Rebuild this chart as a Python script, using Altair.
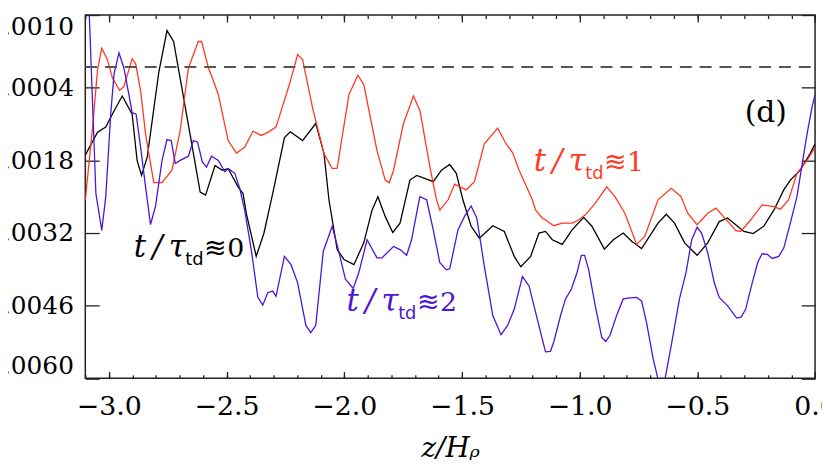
import altair as alt
import pandas as pd

# ---- data (z/H_rho, value in units of 1e-4) ----
z_black = [-3.100, -3.048, -3.013, -2.978, -2.943, -2.901, -2.880, -2.861, -2.837, -2.788,
           -2.753, -2.725, -2.690, -2.648, -2.612, -2.589, -2.549, -2.518, -2.493, -2.451,
           -2.430, -2.416, -2.374, -2.341, -2.304, -2.254, -2.229, -2.177, -2.121, -2.086,
           -2.065, -2.030, -2.001, -1.959, -1.917, -1.882, -1.857, -1.826, -1.794, -1.763,
           -1.721, -1.692, -1.622, -1.587, -1.552, -1.524, -1.496, -1.461, -1.426, -1.369,
           -1.320, -1.278, -1.250, -1.208, -1.173, -1.145, -1.116, -1.074, -1.032, -0.983,
           -0.948, -0.895, -0.857, -0.815, -0.779, -0.737, -0.667, -0.632, -0.597, -0.554,
           -0.501, -0.456, -0.407, -0.372, -0.337, -0.302, -0.263, -0.218, -0.175, -0.133,
           -0.105, -0.063, -0.021, 0.000]
v_black = [-17.0, -12.6, -11.6, -8.5, -5.6, -9.1, -18.0, -20.9, -17.4, -1.1,
           7.0, 4.9, -4.0, -14.8, -24.1, -24.7, -19.0, -19.9, -19.6, -23.1,
           -24.4, -28.2, -36.5, -32.0, -24.4, -13.6, -12.5, -14.2, -10.9, -16.7,
           -25.6, -35.2, -37.1, -38.1, -33.9, -27.6, -25.0, -28.8, -31.9, -30.1,
           -21.8, -20.9, -22.1, -19.9, -18.8, -20.5, -25.6, -30.7, -33.0, -30.6,
           -31.7, -36.5, -38.5, -36.5, -32.0, -31.7, -33.3, -34.2, -31.4, -29.0,
           -30.7, -35.1, -33.3, -32.0, -33.6, -35.0, -30.1, -28.4, -30.1, -33.9,
           -36.3, -33.9, -29.8, -29.1, -30.4, -31.7, -32.1, -30.7, -27.6, -23.7,
           -21.8, -19.9, -16.7, -14.8]

z_red = [-3.100, -3.069, -3.048, -3.030, -3.006, -2.985, -2.954, -2.936, -2.901, -2.886,
         -2.865, -2.844, -2.809, -2.774, -2.732, -2.697, -2.662, -2.620, -2.606, -2.577,
         -2.563, -2.535, -2.493, -2.458, -2.423, -2.388, -2.353, -2.325, -2.290, -2.233,
         -2.198, -2.177, -2.135, -2.086, -2.051, -2.030, -1.980, -1.942, -1.917, -1.861,
         -1.826, -1.809, -1.791, -1.749, -1.706, -1.678, -1.636, -1.608, -1.594, -1.559,
         -1.531, -1.482, -1.447, -1.405, -1.348, -1.313, -1.285, -1.257, -1.201, -1.187,
         -1.159, -1.145, -1.110, -1.074, -1.032, -1.004, -0.976, -0.934, -0.885, -0.850,
         -0.808, -0.758, -0.723, -0.667, -0.611, -0.569, -0.541, -0.501, -0.456, -0.421,
         -0.337, -0.316, -0.274, -0.225, -0.175, -0.147, -0.112, -0.077, -0.034, 0.000]
v_red = [-25.7, -11.6, -0.5, 3.6, 1.4, -2.1, -4.5, -3.8, 1.6, 0.6,
         -4.6, -12.9, -22.3, -22.3, -19.9, -12.3, -0.2, 4.9, 4.9, -0.2,
         -1.8, -5.3, -14.2, -16.6, -15.5, -12.4, -13.2, -12.6, -11.6, -3.4,
         2.4, 1.4, -7.8, -16.7, -19.6, -19.5, -5.3, -1.6, -3.4, -16.1,
         -21.8, -22.3, -20.0, -11.0, -5.6, -8.5, -19.3, -25.6, -27.6, -25.6,
         -22.6, -23.7, -22.1, -14.8, -11.8, -14.8, -16.5, -19.9, -25.6, -27.6,
         -29.1, -29.5, -30.6, -30.1, -30.1, -29.5, -28.5, -26.3, -23.1, -25.0,
         -28.2, -34.2, -32.6, -25.6, -23.4, -25.0, -28.2, -30.4, -28.2, -27.2,
         -31.5, -31.7, -29.5, -26.6, -26.9, -27.4, -25.6, -20.5, -18.0, -15.5]

z_blue = [-3.100, -3.083, -3.055, -3.030, -3.013, -2.992, -2.978, -2.957, -2.936, -2.915,
          -2.901, -2.884, -2.865, -2.844, -2.823, -2.802, -2.774, -2.753, -2.735, -2.718,
          -2.697, -2.662, -2.641, -2.623, -2.603, -2.585, -2.564, -2.535, -2.507, -2.493,
          -2.465, -2.444, -2.423, -2.395, -2.367, -2.346, -2.325, -2.304, -2.290, -2.254,
          -2.226, -2.198, -2.163, -2.142, -2.121, -2.089, -2.051, -2.022, -1.995, -1.962,
          -1.938, -1.903, -1.861, -1.840, -1.791, -1.763, -1.735, -1.714, -1.679, -1.650,
          -1.622, -1.594, -1.566, -1.552, -1.517, -1.489, -1.461, -1.437, -1.405, -1.369,
          -1.334, -1.306, -1.278, -1.243, -1.215, -1.187, -1.159, -1.145, -1.124, -1.110,
          -1.081, -1.060, -1.035, -1.011, -0.993, -0.979, -0.962, -0.934, -0.906, -0.889,
          -0.871, -0.843, -0.815, -0.786, -0.758, -0.737, -0.716, -0.688, -0.660, -0.639,
          -0.611, -0.576, -0.548, -0.524, -0.501, -0.482, -0.456, -0.428, -0.407, -0.372,
          -0.333, -0.314, -0.295, -0.267, -0.243, -0.225, -0.203, -0.182, -0.154, -0.133,
          -0.105, -0.077, -0.034, -0.013, 0.000]
v_blue = [14.0, 10.0, -24.4, -31.5, -25.0, -9.1, -1.4, 2.7, -0.2, -5.3,
          -8.8, -9.1, -15.5, -23.1, -30.4, -26.9, -18.0, -14.0, -14.2, -18.6,
          -18.0, -17.2, -14.2, -14.5, -18.3, -19.3, -17.2, -18.0, -20.2, -19.6,
          -20.5, -23.4, -27.6, -35.2, -44.4, -45.9, -43.5, -43.2, -44.2, -36.5,
          -38.1, -41.6, -49.8, -51.2, -49.8, -35.5, -30.7, -35.8, -40.9, -42.7,
          -39.6, -33.3, -36.8, -36.8, -34.6, -35.2, -36.3, -33.3, -25.0, -25.6,
          -31.4, -37.7, -39.1, -38.9, -31.4, -28.8, -26.8, -29.1, -38.4, -47.9,
          -51.6, -49.8, -46.7, -40.4, -42.2, -47.3, -52.4, -54.9, -54.8, -53.0,
          -47.9, -44.7, -42.8, -39.6, -36.3, -36.3, -39.0, -46.0, -52.1, -52.9,
          -51.7, -47.9, -44.7, -44.5, -44.4, -45.1, -49.2, -56.2, -61.5, -60.5,
          -53.7, -44.7, -39.6, -33.3, -30.9, -32.0, -35.8, -41.6, -44.4, -46.0,
          -48.4, -48.2, -46.7, -41.6, -37.6, -36.0, -36.1, -36.9, -36.5, -34.9,
          -30.1, -25.0, -12.9, -7.8, -5.3]

series_names = ["t0", "t1", "t2"]
series_colors = ["#000000", "#ff3a1f", "#4d14d6"]

x_major = [-3.0, -2.5, -2.0, -1.5, -1.0, -0.5, 0.0]
x_minor = [-3.1, -3.0, -2.9, -2.8, -2.7, -2.6, -2.5, -2.4, -2.3, -2.2, -2.1, -2.0,
           -1.9, -1.8, -1.7, -1.6, -1.5, -1.4, -1.3, -1.2, -1.1, -1.0,
           -0.9, -0.8, -0.7, -0.6, -0.5, -0.4, -0.3, -0.2, -0.1, 0.0]
y_major = [0.0010, -0.0004, -0.0018, -0.0032, -0.0046, -0.0060]

# label anchors (start of "t", baseline)
lab_z = [-2.894, -1.195, -1.990]
lab_v = [-0.00367, -0.00201, -0.00470]
lab_num = ["0", "1", "2"]

# ---- tables ----
rows = []
for name, zs, vs in zip(series_names, [z_black, z_red, z_blue], [v_black, v_red, v_blue]):
    for z, v in zip(zs, vs):
        rows.append({"z": z, "v": v * 1e-4, "series": name})
df = pd.DataFrame(rows)

zero_df = pd.DataFrame({"z": [-3.1], "z2": [0.0], "v": [0.0]})
lab_df = pd.DataFrame({"z": lab_z, "v": lab_v, "rel": ["≋" + n for n in lab_num],
                       "color": series_colors})
d_df = pd.DataFrame({"z": [-0.209], "v": [-0.00088], "txt": ["(d)"]})

x_scale = alt.Scale(domain=[-3.1, 0.0], nice=False, zero=False)
y_scale = alt.Scale(domain=[-0.0060, 0.0010], nice=False, zero=False)

FONT = "DejaVu Serif"
tick_style = dict(domain=False, grid=False, tickColor="#222", tickWidth=1.3)

lines = alt.Chart(df).mark_line(strokeWidth=1.3, clip=True).encode(
    x=alt.X("z:Q", scale=x_scale,
            axis=alt.Axis(orient="bottom", values=x_major, format=".1f", tickSize=7, offset=-7,
                          labelPadding=16, labelFlush=False, labelFont=FONT, labelFontSize=27,
                          labelColor="#000", title="z/Hᵨ", titleFont=FONT, titleFontSize=28,
                          titleFontStyle="italic", titleFontWeight="normal", titlePadding=15,
                          titleColor="#000", **tick_style)),
    y=alt.Y("v:Q", scale=y_scale,
            axis=alt.Axis(orient="left", values=y_major, format=".4f", tickSize=14, offset=-14,
                          labelPadding=12, labelFlush=True, labelFont=FONT, labelFontSize=25,
                          labelColor="#000", title=None, **tick_style)),
    color=alt.Color("series:N", scale=alt.Scale(domain=series_names, range=series_colors),
                    legend=None),
    detail="series:N",
)

zero_rule = alt.Chart(zero_df).mark_rule(color="#555555", strokeWidth=2,
                                         strokeDash=[12, 8]).encode(
    x=alt.X("z:Q", scale=x_scale,
            axis=alt.Axis(orient="bottom", values=x_minor, tickSize=3.5, offset=-3.5,
                          labels=False, title=None, **tick_style)),
    x2="z2:Q",
    y=alt.Y("v:Q", scale=y_scale,
            axis=alt.Axis(orient="right", values=y_major, tickSize=14, offset=-14,
                          labels=False, title=None, **tick_style)),
)

main_txt = alt.Chart(lab_df).mark_text(align="left", baseline="alphabetic", font=FONT,
                                       fontStyle="italic", fontSize=31).encode(
    x=alt.X("z:Q", scale=x_scale,
            axis=alt.Axis(orient="top", values=x_major, tickSize=7, offset=-7,
                          labels=False, title=None, **tick_style)),
    y=alt.Y("v:Q", scale=y_scale, axis=None),
    text=alt.value("t\u2009/\u2009τ"),
    color=alt.Color("color:N", scale=None),
)

sub_txt = alt.Chart(lab_df).mark_text(align="left", baseline="alphabetic", font="DejaVu Sans",
                                      fontSize=18, dx=52, dy=8).encode(
    x=alt.X("z:Q", scale=x_scale,
            axis=alt.Axis(orient="top", values=x_minor, tickSize=3.5, offset=-3.5,
                          labels=False, title=None, **tick_style)),
    y=alt.Y("v:Q", scale=y_scale, axis=None),
    text=alt.value("td"),
    color=alt.Color("color:N", scale=None),
)

rel_txt = alt.Chart(lab_df).mark_text(align="left", baseline="alphabetic", font=FONT,
                                      fontSize=27, dx=71).encode(
    x=alt.X("z:Q", scale=x_scale, axis=None),
    y=alt.Y("v:Q", scale=y_scale, axis=None),
    text="rel:N",
    color=alt.Color("color:N", scale=None),
)

d_txt = alt.Chart(d_df).mark_text(align="center", baseline="middle", font=FONT,
                                  fontSize=30, color="#000").encode(
    x=alt.X("z:Q", scale=x_scale, axis=None),
    y=alt.Y("v:Q", scale=y_scale, axis=None),
    text="txt:N",
)

chart = alt.layer(lines, zero_rule, main_txt, sub_txt, rel_txt, d_txt).resolve_axis(
    x="independent", y="independent"
).properties(
    width=736.4,
    height=366.6,
    autosize=alt.AutoSizeParams(type="none"),
    padding={"left": 78, "top": 5, "right": 7, "bottom": 88},
).configure_view(stroke="#222222", strokeWidth=1.5)

chart.save("out.html", embed_options={"renderer": "svg", "actions": False})
